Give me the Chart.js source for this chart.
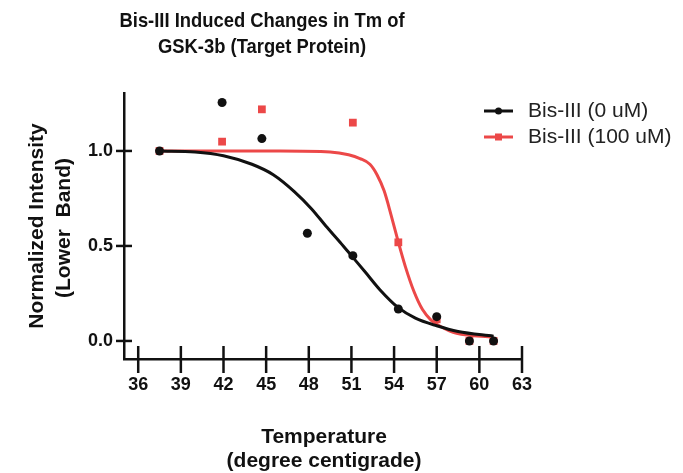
<!DOCTYPE html>
<html>
<head>
<meta charset="utf-8">
<script src="https://cdn.jsdelivr.net/npm/chart.js@4.4.0/dist/chart.umd.min.js"></script>
<style>
  body { margin: 0; background: #fff; }
</style>
</head>
<body>
<canvas id="grafico" width="683" height="473"></canvas>
<script>
// dados
const temperaturas = [37.5, 41.9, 44.7, 47.9, 51.1, 54.3, 57.0, 59.3, 61.0];
const bis0 = [1.0, 1.255, 1.065, 0.567, 0.449, 0.168, 0.128, 0.0, 0.0];
const bis100 = [1.0, 1.049, 1.219, null, 1.149, 0.519, 0.114, 0.0, 0.0];

// curvas ajustadas
const ajuste0T = [37.5, 40, 42, 44, 45.5, 47, 48.2, 49.2, 50.2, 51.1, 52, 53, 54.3, 55.5, 57, 58.5, 61];
const ajuste0Y = [1.0, 0.995, 0.975, 0.93, 0.875, 0.785, 0.695, 0.605, 0.52, 0.44, 0.36, 0.27, 0.175, 0.12, 0.08, 0.05, 0.025];
const ajuste100T = [37.5, 42, 46, 49.5, 50.8, 51.6, 52.3, 52.8, 53.3, 53.8, 54.3, 54.8, 55.4, 56, 56.6, 57.3, 58.4, 61];
const ajuste100Y = [1.0, 1.0, 1.0, 0.995, 0.98, 0.96, 0.93, 0.875, 0.79, 0.66, 0.52, 0.39, 0.26, 0.165, 0.11, 0.075, 0.04, 0.02];

const xTicks = [36, 39, 42, 45, 48, 51, 54, 57, 60, 63];
const yTicks = [0.0, 0.5, 1.0];
const legendas = ['Bis-III (0 uM)', 'Bis-III (100 uM)'];

const preto = '#111111';
const vermelho = '#ec4848';
const fonte = '"Liberation Sans", Arial, sans-serif';

function pontos(xs, ys) {
    const out = [];
    xs.forEach((x, i) => { if (ys[i] !== null) out.push({x: x, y: ys[i]}); });
    return out;
}

// texto comprimido na horizontal
function textoEscala(ctx, txt, x, y, sx) {
    ctx.save();
    ctx.translate(x, y);
    ctx.scale(sx, 1);
    ctx.fillText(txt, 0, 0);
    ctx.restore();
}

const extras = {
    id: 'extras',
    afterDraw(chart) {
        const ctx = chart.ctx;
        const xs = chart.scales.x;
        const ys = chart.scales.y;
        const area = chart.chartArea;
        ctx.save();

        // marcas dos ticks cruzando os eixos
        ctx.strokeStyle = preto;
        ctx.lineWidth = 2.5;
        xTicks.forEach(v => {
            const px = xs.getPixelForValue(v);
            ctx.beginPath();
            ctx.moveTo(px, area.bottom - 13);
            ctx.lineTo(px, area.bottom + 14);
            ctx.stroke();
        });
        yTicks.forEach(v => {
            const py = ys.getPixelForValue(v);
            ctx.beginPath();
            ctx.moveTo(area.left - 8, py);
            ctx.lineTo(area.left + 8, py);
            ctx.stroke();
        });

        // titulo
        ctx.fillStyle = preto;
        ctx.textAlign = 'center';
        ctx.textBaseline = 'middle';
        ctx.font = 'bold 21px ' + fonte;
        const sx = 285 / ctx.measureText('Bis-III Induced Changes in Tm of').width;
        textoEscala(ctx, 'Bis-III Induced Changes in Tm of', 262, 21, sx);
        textoEscala(ctx, 'GSK-3b (Target Protein)', 262, 47, sx);

        // titulo eixo x
        ctx.font = 'bold 21px ' + fonte;
        ctx.fillText('Temperature', 324, 437);
        ctx.fillText('(degree centigrade)', 324, 461);

        // titulo eixo y
        ctx.save();
        ctx.translate(37, 226);
        ctx.rotate(-Math.PI / 2);
        ctx.fillText('Normalized Intensity', 0, 0);
        ctx.restore();
        ctx.save();
        ctx.translate(64, 228);
        ctx.rotate(-Math.PI / 2);
        ctx.fillText('(Lower  Band)', 0, 0);
        ctx.restore();

        // legenda
        const cores = [preto, vermelho];
        const ly = [111, 137];
        ctx.font = '21px ' + fonte;
        ctx.textAlign = 'left';
        legendas.forEach((txt, i) => {
            ctx.strokeStyle = cores[i];
            ctx.fillStyle = cores[i];
            ctx.lineWidth = 3;
            ctx.beginPath();
            ctx.moveTo(484, ly[i]);
            ctx.lineTo(513, ly[i]);
            ctx.stroke();
            if (i === 0) {
                ctx.beginPath();
                ctx.arc(498.5, ly[i], 3.5, 0, Math.PI * 2);
                ctx.fill();
            } else {
                ctx.fillRect(495, ly[i] - 3.5, 7, 7);
            }
            ctx.fillStyle = '#222';
            ctx.fillText(txt, 528, ly[i]);
        });
        ctx.restore();
    }
};

const ctx = document.getElementById('grafico').getContext('2d');
new Chart(ctx, {
    type: 'line',
    data: {
        datasets: [
            {
                label: legendas[0],
                data: pontos(temperaturas, bis0),
                showLine: false,
                pointStyle: 'circle',
                pointRadius: 4.5,
                pointBackgroundColor: preto,
                pointBorderWidth: 0,
                borderColor: preto
            },
            {
                label: legendas[1],
                data: pontos(temperaturas, bis100),
                showLine: false,
                pointStyle: 'rect',
                pointRadius: 5.5,
                pointBackgroundColor: vermelho,
                pointBorderWidth: 0,
                borderColor: vermelho
            },
            {
                label: 'ajuste 0',
                data: pontos(ajuste0T, ajuste0Y),
                borderColor: preto,
                borderWidth: 3,
                pointRadius: 0,
                cubicInterpolationMode: 'monotone'
            },
            {
                label: 'ajuste 100',
                data: pontos(ajuste100T, ajuste100Y),
                borderColor: vermelho,
                borderWidth: 3,
                pointRadius: 0,
                cubicInterpolationMode: 'monotone'
            }
        ]
    },
    options: {
        responsive: false,
        animation: false,
        layout: { padding: { left: 0, right: 161, top: 93, bottom: 0 } },
        plugins: {
            legend: { display: false },
            title: { display: false },
            tooltip: { enabled: false }
        },
        scales: {
            x: {
                type: 'linear',
                min: 35,
                max: 63,
                afterBuildTicks: s => { s.ticks = xTicks.map(v => ({value: v})); },
                afterFit: s => { s.height = 114; },
                grid: { display: false, drawTicks: false },
                border: { display: true, color: preto, width: 2.5 },
                ticks: {
                    color: preto,
                    padding: 15,
                    maxRotation: 0,
                    font: { family: fonte, size: 18, weight: 'bold' }
                }
            },
            y: {
                type: 'linear',
                min: -0.095,
                max: 1.305,
                afterBuildTicks: s => { s.ticks = yTicks.map(v => ({value: v})); },
                afterFit: s => { s.width = 124; },
                grid: { display: false, drawTicks: false },
                border: { display: true, color: preto, width: 2.5 },
                ticks: {
                    color: preto,
                    padding: 11,
                    font: { family: fonte, size: 18, weight: 'bold' },
                    callback: v => v.toFixed(1)
                }
            }
        }
    },
    plugins: [extras]
});
</script>
</body>
</html>
